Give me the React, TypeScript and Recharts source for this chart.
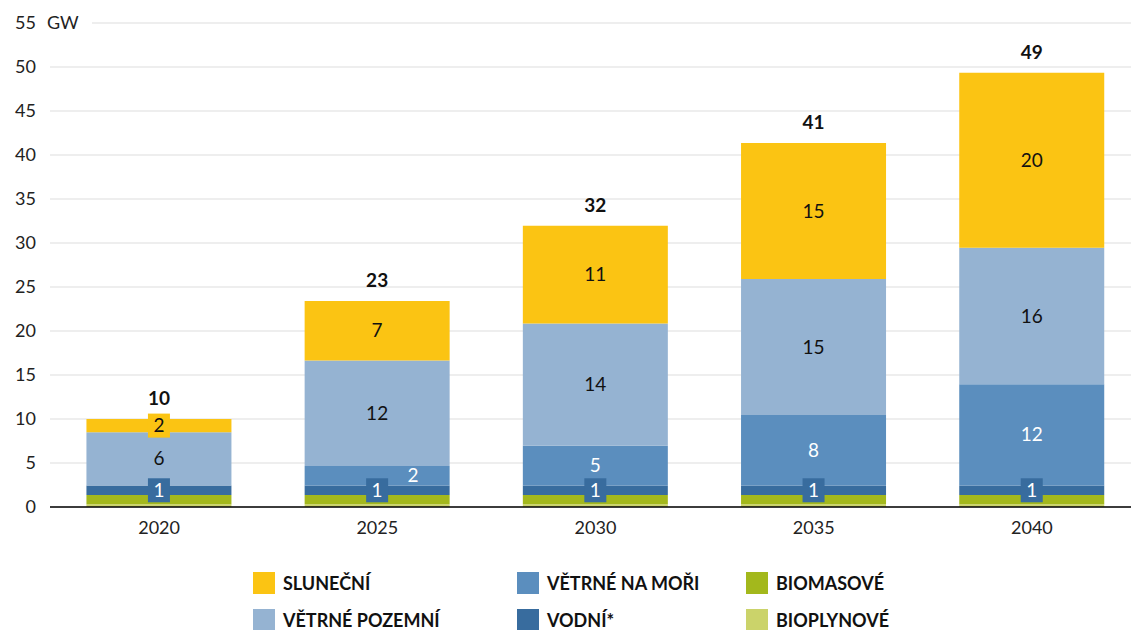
import { BarChart, Bar, XAxis, YAxis, CartesianGrid, LabelList } from 'recharts'

const years = ['2020', '2025', '2030', '2035', '2040']
const bioplynove = [0.3, 0.3, 0.3, 0.3, 0.3]
const biomasove = [1.05, 1.05, 1.05, 1.05, 1.05]
const vodni = [1.1, 1.1, 1.1, 1.1, 1.1]
const vetrneNaMori = [0, 2.2, 4.5, 8.0, 11.5]
const vetrnePozemni = [6.05, 12.0, 13.9, 15.45, 15.5]
const slunecni = [1.5, 6.75, 11.1, 15.45, 19.9]
const yTicks = [0, 5, 10, 15, 20, 25, 30, 35, 40, 45, 50, 55]

const C = {
  slunecni: '#fbc413',
  pozemni: '#95b3d2',
  mori: '#5b8ebe',
  vodni: '#386c9e',
  biomasove: '#a3b81c',
  bioplynove: '#cbd36a',
}

const data = years.map((y, i) => ({
  year: y,
  bioplynove: bioplynove[i],
  biomasove: biomasove[i],
  vodni: vodni[i],
  mori: vetrneNaMori[i],
  pozemni: vetrnePozemni[i],
  slunecni: slunecni[i],
  total:
    bioplynove[i] + biomasove[i] + vodni[i] + vetrneNaMori[i] + vetrnePozemni[i] + slunecni[i],
}))

const FONT = 'Lato, "Open Sans", sans-serif'

function YTick({ x, y, payload }: any) {
  return (
    <g>
      <text x={x} y={y} dy={6} textAnchor="end" fontSize={18} fill="#222" fontFamily={FONT}>
        {payload.value}
      </text>
      {payload.value === 55 && (
        <>
          <rect x={x + 6} y={y - 10} width={50} height={20} fill="#fff" />
          <text x={x + 11} y={y} dy={6} textAnchor="start" fontSize={18} fill="#222" fontFamily={FONT}>
            GW
          </text>
        </>
      )}
    </g>
  )
}

// box: background behind label when the segment is too thin; shiftThin: move label right of the centre box
function inner(color: string, box?: string, boxIdx?: number[], shiftThin?: boolean) {
  return (props: any) => {
    const { x, y, width, height, value, index } = props
    if (!value) return null
    const cx = x + width / 2 + (shiftThin && Math.abs(height) < 25 ? 36 : 0)
    const cy = y + height / 2
    const showBox = box && (!boxIdx || boxIdx.includes(index))
    return (
      <g>
        {showBox && <rect x={cx - 11} y={cy - 12} width={22} height={24} fill={box} />}
        <text x={cx} y={cy} dy={6.5} textAnchor="middle" fontSize={19} fill={color} fontFamily={FONT}>
          {Math.round(value)}
        </text>
      </g>
    )
  }
}

function TotalLabel(props: any) {
  const { x, y, width, index } = props
  return (
    <text
      x={x + width / 2}
      y={y - 14}
      textAnchor="middle"
      fontSize={19}
      fontWeight={700}
      fill="#111"
      fontFamily={FONT}
    >
      {Math.round(data[index].total)}
    </text>
  )
}

const legendItems = [
  { label: 'SLUNEČNÍ', color: C.slunecni, x: 253, y: 572 },
  { label: 'VĚTRNÉ POZEMNÍ', color: C.pozemni, x: 253, y: 609 },
  { label: 'VĚTRNÉ NA MOŘI', color: C.mori, x: 517, y: 572 },
  { label: 'VODNÍ*', color: C.vodni, x: 517, y: 609 },
  { label: 'BIOMASOVÉ', color: C.biomasove, x: 746, y: 572 },
  { label: 'BIOPLYNOVÉ', color: C.bioplynove, x: 746, y: 609 },
]

export default function App() {
  return (
    <div
      style={{
        position: 'absolute',
        left: 0,
        top: 0,
        width: 1131,
        height: 630,
        overflow: 'hidden',
        background: '#fff',
        fontFamily: FONT,
      }}
    >
      <BarChart
        width={1141}
        height={630}
        data={data}
        margin={{ top: 23, right: 0, left: 0, bottom: 83 }}
        barCategoryGap="16.7%"
      >
        <CartesianGrid vertical={false} stroke="#dedede" strokeWidth={1.2} />
        <XAxis
          dataKey="year"
          height={40}
          tickLine={false}
          tickSize={0}
          tickMargin={14}
          axisLine={{ stroke: '#000', strokeWidth: 1.5 }}
          tick={{ fontSize: 18, fill: '#222', fontFamily: FONT }}
        />
        <YAxis
          width={50}
          domain={[0, 55]}
          ticks={yTicks}
          interval={0}
          tickLine={false}
          axisLine={false}
          tickSize={0}
          tickMargin={14}
          tick={<YTick />}
        />
        <Bar dataKey="bioplynove" stackId="a" fill={C.bioplynove} isAnimationActive={false} />
        <Bar dataKey="biomasove" stackId="a" fill={C.biomasove} isAnimationActive={false} />
        <Bar dataKey="vodni" stackId="a" fill={C.vodni} isAnimationActive={false}>
          <LabelList dataKey="vodni" content={inner('#fff', C.vodni)} />
        </Bar>
        <Bar dataKey="mori" stackId="a" fill={C.mori} isAnimationActive={false}>
          <LabelList dataKey="mori" content={inner('#fff', undefined, undefined, true)} />
        </Bar>
        <Bar dataKey="pozemni" stackId="a" fill={C.pozemni} isAnimationActive={false}>
          <LabelList dataKey="pozemni" content={inner('#111')} />
        </Bar>
        <Bar dataKey="slunecni" stackId="a" fill={C.slunecni} isAnimationActive={false}>
          <LabelList dataKey="slunecni" content={inner('#111', C.slunecni, [0])} />
          <LabelList dataKey="slunecni" content={TotalLabel} />
        </Bar>
      </BarChart>
      {legendItems.map((it) => (
        <div
          key={it.label}
          style={{
            position: 'absolute',
            left: it.x,
            top: it.y,
            display: 'flex',
            alignItems: 'center',
            gap: 8,
          }}
        >
          <div style={{ width: 22, height: 22, background: it.color }} />
          <span style={{ fontSize: 18, fontWeight: 700, color: '#111' }}>{it.label}</span>
        </div>
      ))}
    </div>
  )
}
